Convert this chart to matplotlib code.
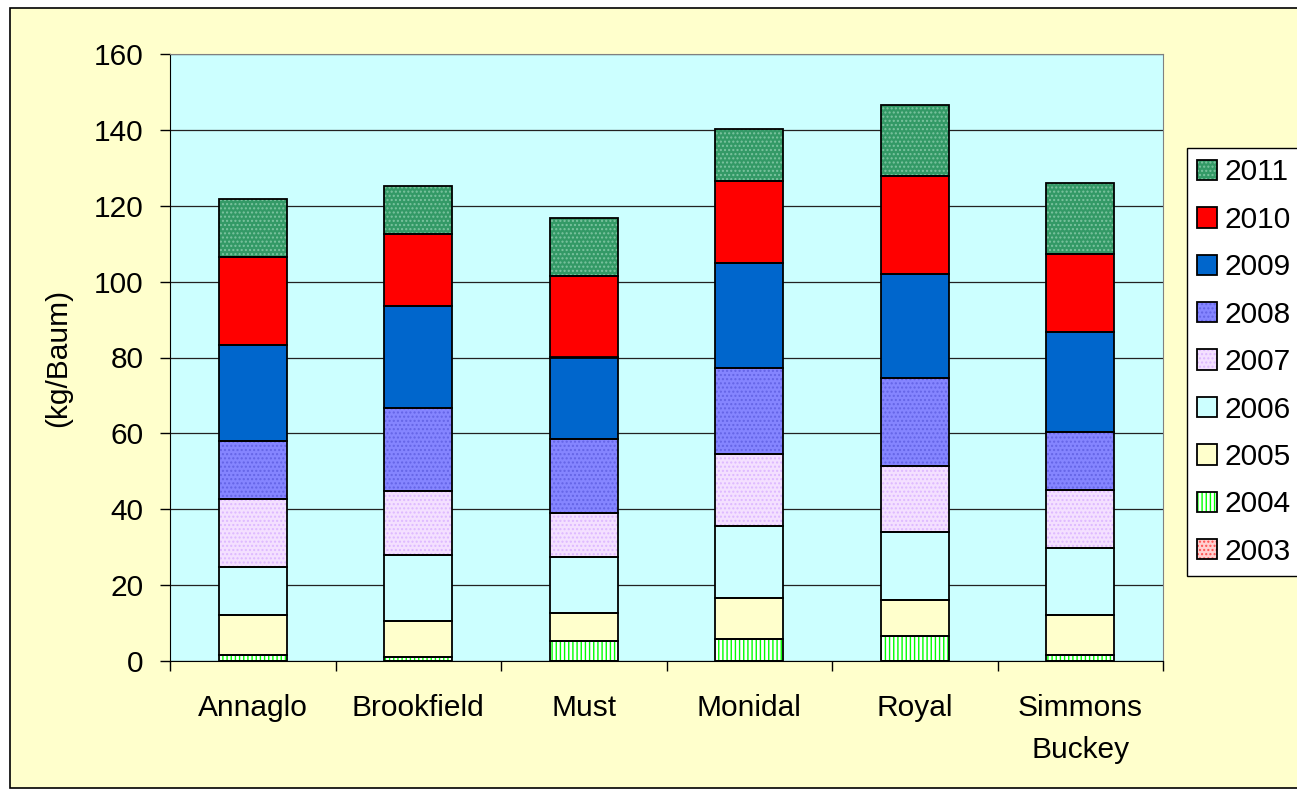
import matplotlib.pyplot as plt
import numpy as np
from matplotlib.patches import Rectangle

plt.rcParams['font.family'] = ['Liberation Sans', 'DejaVu Sans']
plt.rcParams['hatch.linewidth'] = 1.0

# yield per tree and year
cultivars = ['Annaglo', 'Brookfield', 'Must', 'Monidal', 'Royal', 'Simmons\nBuckey']
years = ['2003', '2004', '2005', '2006', '2007', '2008', '2009', '2010', '2011']

y2003 = [0.0, 0.0, 0.0, 0.0, 0.0, 0.0]
y2004 = [1.6, 1.0, 5.2, 5.7, 6.5, 1.6]
y2005 = [10.5, 9.5, 7.4, 10.9, 9.7, 10.5]
y2006 = [12.6, 17.4, 14.9, 19.0, 17.7, 17.8]
y2007 = [18.0, 16.9, 11.4, 19.0, 17.4, 15.3]
y2008 = [15.4, 22.0, 19.6, 22.6, 23.2, 15.2]
y2009 = [25.1, 26.8, 21.5, 27.8, 27.4, 26.3]
y2010 = [23.2, 18.9, 21.5, 21.6, 25.9, 20.5]
y2011 = [15.3, 12.6, 15.4, 13.6, 18.8, 18.9]

series = [y2003, y2004, y2005, y2006, y2007, y2008, y2009, y2010, y2011]

# fill colour, hatch, hatch colour for every year
styles = [
    ('#FFD0D0', '....', '#FF5050'),
    ('white', '||||', '#00FF00'),
    ('#FFFFCC', '', '#FFFFCC'),
    ('#CCFFFF', '', '#CCFFFF'),
    ('#F4E0FF', '....', '#DDB8FF'),
    ('#8585FF', '....', '#6464E6'),
    ('#0066CC', '', '#0066CC'),
    ('#FF0000', '', '#FF0000'),
    ('#339966', '....', '#7CC4A0'),
]

W, H = 1297, 790
fig = plt.figure(figsize=(W / 100, H / 100), dpi=100, facecolor='white')

# yellow chart area with black border
fig.add_artist(Rectangle((10 / W, 1 - 788 / H), 1.2, (788 - 8) / H, transform=fig.transFigure,
                         facecolor='#FFFFCC', edgecolor='black', lw=1.2, zorder=-10))

ax = fig.add_axes([170 / W, 1 - 661 / H, (1163 - 170) / W, (661 - 54) / H])
ax.set_facecolor('#CCFFFF')

x = np.arange(len(cultivars))
bottom = np.zeros(len(cultivars))
handles = []
for vals, (face, hatch, hcol) in zip(series, styles):
    vals = np.array(vals)
    b1 = ax.bar(x, vals, 0.41, bottom=bottom, color=face, hatch=hatch, edgecolor=hcol, lw=0, zorder=2)
    b2 = ax.bar(x, vals, 0.41, bottom=bottom, fill=False, edgecolor='black', lw=1.3, zorder=3)
    handles.append((b1.patches[0], b2.patches[0]))
    bottom += vals

ax.set_xlim(-0.5, len(cultivars) - 0.5)
ax.set_ylim(0, 160)
ax.set_yticks(range(0, 161, 20))
ax.grid(axis='y', color='#222222', lw=0.9)
ax.set_axisbelow(True)

ax.set_xticks(x)
ax.set_xticklabels(cultivars, linespacing=1.6)
ax.set_xticks(np.arange(-0.5, len(cultivars), 1), minor=True)
ax.tick_params(axis='x', which='major', length=0, pad=24, labelsize=21.5)
ax.tick_params(axis='x', which='minor', length=7, direction='out', width=1)
ax.tick_params(axis='y', length=7, direction='out', width=1, pad=12, labelsize=21.5)

ax.set_ylabel('(kg/Baum)', fontsize=21.5, labelpad=16)

for s in ['top', 'right']:
    ax.spines[s].set_color('#808080')
for s in ['left', 'bottom']:
    ax.spines[s].set_color('black')

leg = ax.legend(handles[::-1], years[::-1], loc='upper left',
                bbox_to_anchor=(1187 / W, 1 - 148 / H), bbox_transform=fig.transFigure,
                fontsize=21.5, frameon=True, fancybox=False, edgecolor='black', facecolor='white',
                framealpha=1, handlelength=0.67, handleheight=0.67, handletextpad=0.25,
                borderpad=0.35, labelspacing=0.65, borderaxespad=0)
leg.get_frame().set_linewidth(1.0)

fig.savefig('out.png', dpi=100)
